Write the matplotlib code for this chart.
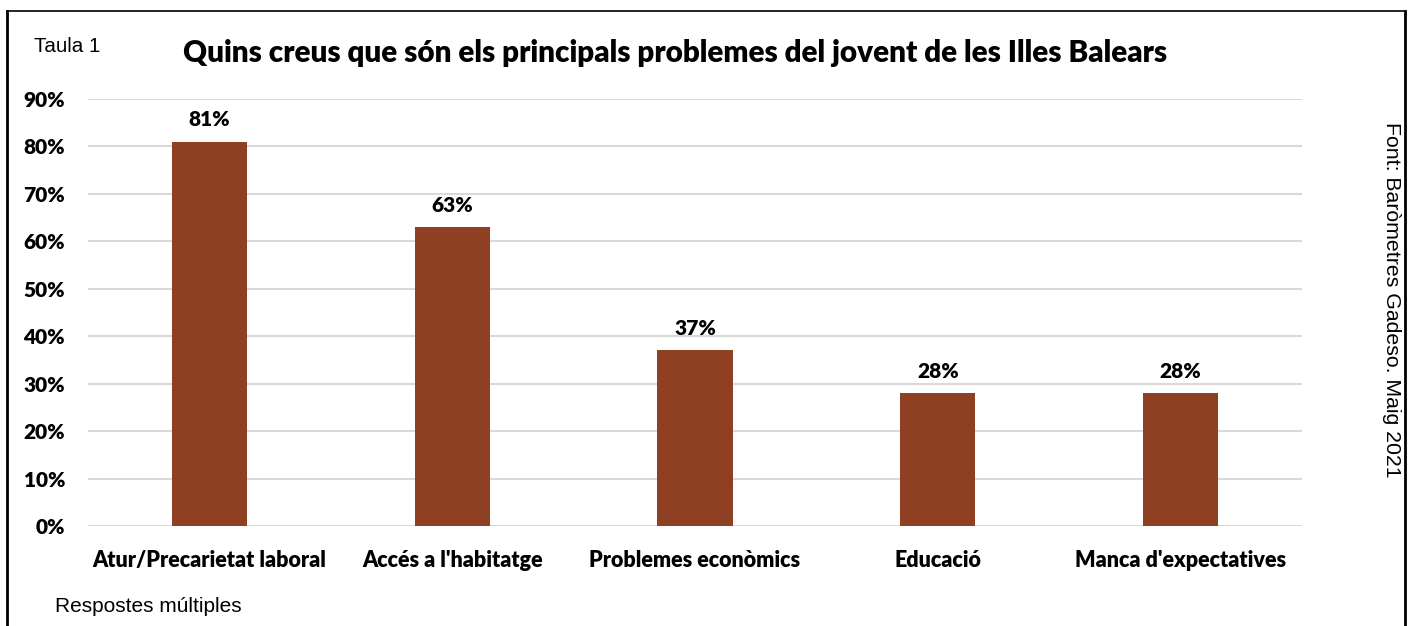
import matplotlib
matplotlib.use("Agg")
import matplotlib.pyplot as plt

categories = ["Atur/Precarietat laboral", "Accés a l'habitatge", "Problemes econòmics",
              "Educació", "Manca d'expectatives"]
values = [0.81, 0.63, 0.37, 0.28, 0.28]
value_labels = ["81%", "63%", "37%", "28%", "28%"]
yticks = [0, 0.1, 0.2, 0.3, 0.4, 0.5, 0.6, 0.7, 0.8, 0.9]
ytick_labels = ["0%", "10%", "20%", "30%", "40%", "50%", "60%", "70%", "80%", "90%"]

title = "Quins creus que són els principals problemes del jovent de les Illes Balears"
bar_color = "#8F3F22"
bold_font = "Lato"
plain_font = "Liberation Sans"
heavy = "heavy"

W, H = 1412, 626
fig = plt.figure(figsize=(W / 100, H / 100), dpi=100)
fig.patch.set_facecolor("white")

# axes placed in pixel coords
x0, x1 = 88, 1302
y0, y1 = 526, 99
ax = fig.add_axes([x0 / W, 1 - y0 / H, (x1 - x0) / W, (y0 - y1) / H])

pos = range(len(categories))
ax.bar(pos, values, width=0.31, color=bar_color, zorder=3)
for p, v, lab in zip(pos, values, value_labels):
    ax.annotate(lab, (p, v), xytext=(0, 9), textcoords="offset points",
                ha="center", va="bottom", fontsize=15, fontweight=heavy,
                family=bold_font)

ax.set_xlim(-0.5, len(categories) - 0.5)
ax.set_ylim(0, 0.9)
ax.set_yticks(yticks)
ax.set_yticklabels(ytick_labels, fontsize=15, fontweight=heavy, family=bold_font)
ax.set_xticks(list(pos))
ax.set_xticklabels(categories, fontsize=15.5, fontweight=heavy, family=bold_font)
ax.tick_params(axis="both", length=0)
ax.tick_params(axis="y", pad=16.5)
ax.tick_params(axis="x", pad=17)
ax.grid(axis="y", color="#D9D9D9", lw=1.5, zorder=0)
for s in ax.spines.values():
    s.set_visible(False)

fig.text(183 / W, 1 - 53 / H, title, fontsize=21.3, fontweight=heavy,
         family=bold_font, ha="left", va="center")
fig.text(34 / W, 1 - 47 / H, "Taula 1", fontsize=14.8, family=plain_font,
         ha="left", va="center")
fig.text(55 / W, 1 - 607 / H, "Respostes múltiples", fontsize=15,
         family=plain_font, ha="left", va="center")
fig.text(1392 / W, 1 - 300 / H, "Font: Baròmetres Gadeso. Maig 2021", fontsize=15.3,
         family=plain_font, rotation=270, ha="center", va="center")

# outer frame (open at the bottom)
fig.add_artist(plt.Line2D([7 / W, 7 / W], [0, 1 - 11 / H], transform=fig.transFigure,
                          color="black", lw=2))
fig.add_artist(plt.Line2D([7 / W, 1405 / W], [1 - 11 / H, 1 - 11 / H],
                          transform=fig.transFigure, color="black", lw=1.2))
fig.add_artist(plt.Line2D([1405 / W, 1405 / W], [0, 1 - 11 / H],
                          transform=fig.transFigure, color="black", lw=2))

fig.savefig("out.png", dpi=100, facecolor="white")
